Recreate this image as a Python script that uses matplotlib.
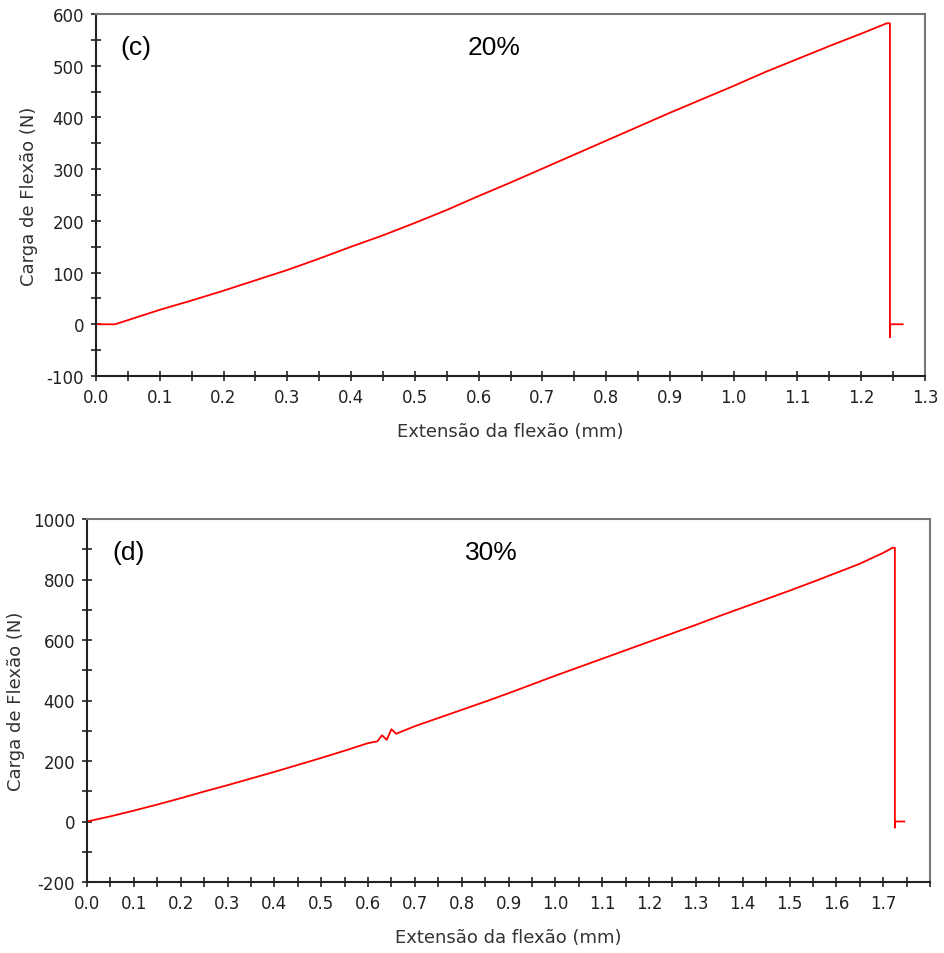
import matplotlib.pyplot as plt
import numpy as np
from matplotlib.ticker import MultipleLocator

plt.rcParams['axes.unicode_minus'] = False

# (c) 20%
x_c = [0.0, 0.03, 0.05, 0.1, 0.15, 0.2, 0.25, 0.3, 0.35, 0.4, 0.45, 0.5, 0.55, 0.6, 0.65, 0.7,
       0.75, 0.8, 0.85, 0.9, 0.95, 1.0, 1.05, 1.1, 1.15, 1.2, 1.24, 1.245, 1.245, 1.245, 1.265]
y_c = [0, 0, 8, 28, 46, 65, 85, 105, 127, 150, 172, 196, 221, 248, 274, 301,
       328, 355, 382, 409, 435, 461, 488, 513, 538, 562, 582, 582, -25, 0, 0]

# (d) 30%
x_d = [0.0, 0.05, 0.1, 0.15, 0.2, 0.25, 0.3, 0.35, 0.4, 0.45, 0.5, 0.55, 0.6, 0.62, 0.63, 0.64,
       0.65, 0.66, 0.7, 0.75, 0.8, 0.85, 0.9, 0.95, 1.0, 1.05, 1.1, 1.15, 1.2, 1.25, 1.3, 1.35,
       1.4, 1.45, 1.5, 1.55, 1.6, 1.65, 1.7, 1.72, 1.725, 1.725, 1.725, 1.745]
y_d = [0, 17, 36, 56, 77, 99, 120, 142, 164, 187, 210, 234, 259, 265, 285, 270,
       305, 290, 315, 342, 369, 396, 424, 453, 482, 510, 538, 566, 594, 622, 650, 679,
       707, 735, 763, 792, 822, 852, 888, 905, 905, -20, 0, 0]

panels = [
    dict(x=x_c, y=y_c, tag='(c)', pct='20%', xlim=(0, 1.3), xlab_max=1.3,
         ylim=(-100, 600), ymaj=100, ymin=50,
         rect=[96/944, 1-377/954, (925-96)/944, (377-15)/954]),
    dict(x=x_d, y=y_d, tag='(d)', pct='30%', xlim=(0, 1.8), xlab_max=1.7,
         ylim=(-200, 1000), ymaj=200, ymin=100,
         rect=[87/944, 1-883/954, (930-87)/944, (883-520)/954]),
]

fig = plt.figure(figsize=(9.44, 9.54), dpi=100)

for p in panels:
    ax = fig.add_axes(p['rect'])
    ax.plot(p['x'], p['y'], color='red', lw=1.3)
    ax.set_xlim(*p['xlim'])
    ax.set_ylim(*p['ylim'])
    ax.xaxis.set_minor_locator(MultipleLocator(0.05))
    ax.yaxis.set_major_locator(MultipleLocator(p['ymaj']))
    ax.yaxis.set_minor_locator(MultipleLocator(p['ymin']))
    xt = list(np.round(np.arange(0, p['xlim'][1] + 0.01, 0.1), 1))
    ax.set_xticks(xt)
    ax.set_xticklabels(['%.1f' % v if v <= p['xlab_max'] + 1e-9 else '' for v in xt])
    ax.tick_params(which='both', direction='inout', labelsize=12, colors='#222222', width=1.2)
    ax.tick_params(which='major', length=7, pad=5)
    ax.tick_params(which='minor', length=7)
    for s in ['top', 'right']:
        ax.spines[s].set_color('#777777')
        ax.spines[s].set_linewidth(1.5)
    for s in ['left', 'bottom']:
        ax.spines[s].set_color('#222222')
        ax.spines[s].set_linewidth(1.5)
    ax.set_xlabel('Extensão da flexão (mm)', fontsize=13, color='#333333', labelpad=12)
    ax.set_ylabel('Carga de Flexão (N)', fontsize=13, color='#333333', labelpad=6)
    ax.text(0.03, 0.91, p['tag'], transform=ax.transAxes, fontsize=19, family='Liberation Sans',
            ha='left', va='center')
    ax.text(0.48, 0.91, p['pct'], transform=ax.transAxes, fontsize=19, family='Liberation Sans',
            ha='center', va='center')

fig.savefig('out.png', dpi=100, facecolor='white')
